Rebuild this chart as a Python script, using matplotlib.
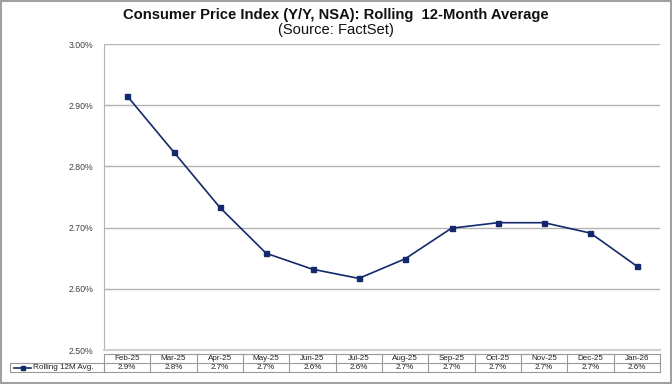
import matplotlib
matplotlib.use("Agg")
import matplotlib.pyplot as plt
from matplotlib.patches import Rectangle
from matplotlib.lines import Line2D
import matplotlib.ticker as mticker

plt.rcParams['font.family'] = ['Liberation Sans', 'DejaVu Sans']

months = ["Feb-25", "Mar-25", "Apr-25", "May-25", "Jun-25", "Jul-25",
          "Aug-25", "Sep-25", "Oct-25", "Nov-25", "Dec-25", "Jan-26"]
rolling_avg = [2.915, 2.824, 2.733, 2.658, 2.632, 2.617,
               2.649, 2.699, 2.708, 2.708, 2.691, 2.637]
table_labels = ["2.9%", "2.8%", "2.7%", "2.7%", "2.6%", "2.6%",
                "2.7%", "2.7%", "2.7%", "2.7%", "2.7%", "2.6%"]
series_name = "Rolling 12M Avg."
title = "Consumer Price Index (Y/Y, NSA): Rolling  12-Month Average"
subtitle = "(Source: FactSet)"

W, H = 672, 384
fig = plt.figure(figsize=(W / 100, H / 100), dpi=100)

def fx(px):
    return px / W

def fy(py):
    return 1 - py / H

# plot area
pl, pr, pt, pb = 104, 660, 44, 350
ax = fig.add_axes([fx(pl), fy(pb), fx(pr - pl), (pb - pt) / H])

navy = "#14296b"
x = list(range(len(months)))
ax.plot(x, rolling_avg, color=navy, lw=1.2, marker="s", ms=3.6,
        mfc=navy, mec=navy, zorder=3)

ax.set_xlim(-0.5, len(months) - 0.5)
ax.set_ylim(2.50, 3.00)
ax.yaxis.set_major_locator(mticker.MultipleLocator(0.10))
ax.yaxis.set_major_formatter(mticker.FuncFormatter(lambda v, p: f"{v:.2f}%"))
ax.tick_params(axis="y", length=0, labelsize=6.3, labelcolor="#404040", pad=8)
ax.set_xticks([])
ax.grid(axis="y", color="#b3b3b3", lw=1.0)
ax.set_axisbelow(True)
for s in ["top", "right"]:
    ax.spines[s].set_visible(False)
ax.spines["left"].set_color("#b3b3b3")
ax.spines["bottom"].set_color("#d0d0d0")
ax.spines["bottom"].set_linewidth(1.5)

# data table (x in data coords, y in axes fraction)
tr = ax.get_xaxis_transform()
ph = pb - pt

def ay(py):
    return (pb - py) / ph

y_h0, y_h1, y_v1 = 354, 363, 372
gray = "#9a9a9a"
n = len(months)
for yy in (y_h0, y_h1, y_v1):
    ax.add_line(Line2D([-0.5, n - 0.5], [ay(yy), ay(yy)], transform=tr,
                       color=gray, lw=0.8, clip_on=False))
for i in range(n + 1):
    ax.add_line(Line2D([i - 0.5, i - 0.5], [ay(y_h0), ay(y_v1)], transform=tr,
                       color=gray, lw=0.8, clip_on=False))
for i, (m, lab) in enumerate(zip(months, table_labels)):
    ax.text(i, ay((y_h0 + y_h1) / 2 + 0.3), m, transform=tr, ha="center",
            va="center", fontsize=5.8, color="#202020", clip_on=False)
    ax.text(i, ay((y_h1 + y_v1) / 2 + 0.3), lab, transform=tr, ha="center",
            va="center", fontsize=5.8, color="#202020", clip_on=False)

# legend cell
lx0 = 10
fig.add_artist(Rectangle((fx(lx0), fy(y_v1)), fx(pl - lx0), (y_v1 - y_h1) / H,
                         transform=fig.transFigure, fill=False,
                         edgecolor=gray, lw=0.8))
ymid = fy((y_h1 + y_v1) / 2)
fig.add_artist(Line2D([fx(14), fx(31)], [ymid, ymid], transform=fig.transFigure,
                      color=navy, lw=1.2))
fig.add_artist(Line2D([fx(22.5)], [ymid], transform=fig.transFigure,
                      color=navy, lw=0, marker="s", ms=3.0, mfc=navy, mec=navy))
fig.text(fx(33), fy((y_h1 + y_v1) / 2 + 0.3), series_name, ha="left",
         va="center", fontsize=5.9, color="#202020")

# titles
fig.text(0.5, fy(15), title, ha="center", va="center", fontsize=10.6,
         fontweight="bold", color="#111111")
fig.text(0.5, fy(30), subtitle, ha="center", va="center", fontsize=10.6,
         color="#111111")

# outer frame
fig.add_artist(Rectangle((0.002, 0.003), 0.996, 0.994, transform=fig.transFigure,
                         fill=False, edgecolor="#a0a0a0", lw=1.5))

fig.savefig("out.png", dpi=100)
